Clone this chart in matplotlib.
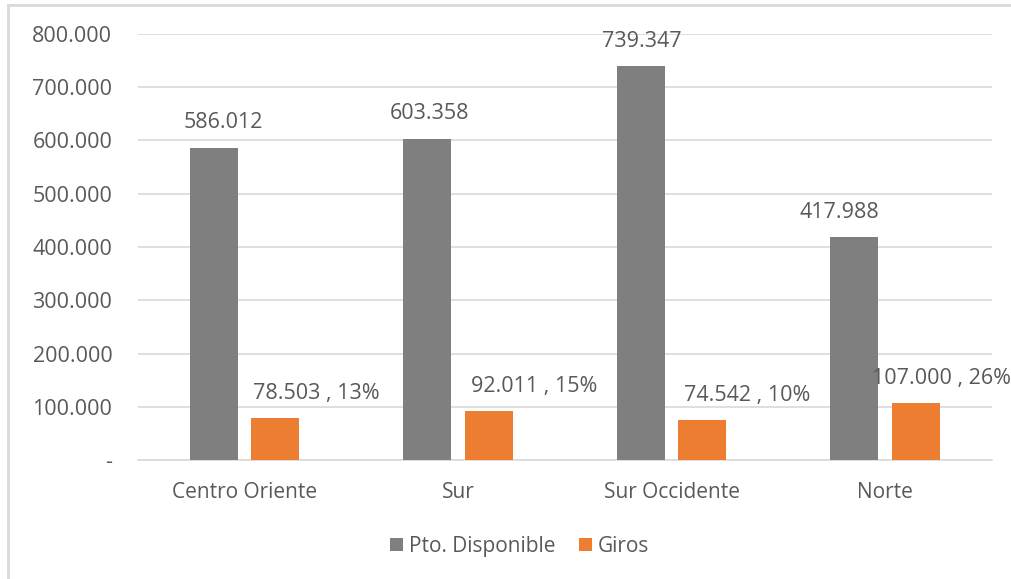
import matplotlib.pyplot as plt
import numpy as np
from matplotlib.lines import Line2D

plt.rcParams['font.family'] = ['Open Sans', 'DejaVu Sans']

categorias = ["Centro Oriente", "Sur", "Sur Occidente", "Norte"]
disponible = [586012, 603358, 739347, 417988]
giros = [78503, 92011, 74542, 107000]
porcentajes = [13, 15, 10, 26]
yticks = [0, 100000, 200000, 300000, 400000, 500000, 600000, 700000, 800000]
ytick_labels = ["-", "100.000", "200.000", "300.000", "400.000", "500.000",
                "600.000", "700.000", "800.000"]

gris = "#7f7f7f"
naranja = "#ed7d31"
texto = "#595959"

fig = plt.figure(figsize=(10.11, 5.79), dpi=100)
# only the top and left edges of the outer frame are visible in the original
fig.lines.append(Line2D([0.008, 1.0], [0.991, 0.991], transform=fig.transFigure,
                        color="#d9d9d9", linewidth=2))
fig.lines.append(Line2D([0.008, 0.008], [0.0, 0.991], transform=fig.transFigure,
                        color="#d9d9d9", linewidth=2))
ax = fig.add_axes([0.1365, 0.2055, 0.8447, 0.7358])

x = np.arange(len(categorias))
w = 0.225
ax.bar(x - 0.145, disponible, w, color=gris, label="Pto. Disponible", zorder=3)
ax.bar(x + 0.143, giros, w, color=naranja, label="Giros", zorder=3)

# offsets of the labels in pixels (as placed in the original)
dx1 = [10, 2, 1, -15]
dx2 = [41, 45, 45, 26]
for i in range(len(categorias)):
    v = disponible[i]
    ax.annotate(f"{v/1000:.3f}", (x[i] - 0.145, v), xytext=(dx1[i], 25),
                textcoords="offset pixels", ha="center", va="center",
                fontsize=15.5, color=texto)
    g = giros[i]
    ax.annotate(f"{g/1000:.3f} , {porcentajes[i]}%", (x[i] + 0.143, g),
                xytext=(dx2[i], 25), textcoords="offset pixels", ha="center",
                va="center", fontsize=15.5, color=texto, annotation_clip=False)

ax.set_xlim(-0.5, 3.5)
ax.set_ylim(0, 800000)
ax.set_yticks(yticks)
ax.set_yticklabels(ytick_labels)
ax.set_xticks(x)
ax.set_xticklabels(categorias)
ax.tick_params(axis="both", length=0, labelcolor=texto)
ax.tick_params(axis="y", pad=18.5, labelsize=15.5)
ax.tick_params(axis="x", pad=16, labelsize=15)
ax.grid(axis="y", color="#d9d9d9", linewidth=1.2, zorder=0)
for s in ["top", "right", "left"]:
    ax.spines[s].set_visible(False)
ax.spines["bottom"].set_color("#d9d9d9")
ax.spines["bottom"].set_linewidth(1.2)

ax.legend(loc="center", bbox_to_anchor=(0.447, -0.202), ncol=2, frameon=False,
          fontsize=15, labelcolor=texto, handlelength=0.6, handleheight=0.6,
          handletextpad=0.3, columnspacing=1.15)

fig.savefig("out.png", dpi=100)
